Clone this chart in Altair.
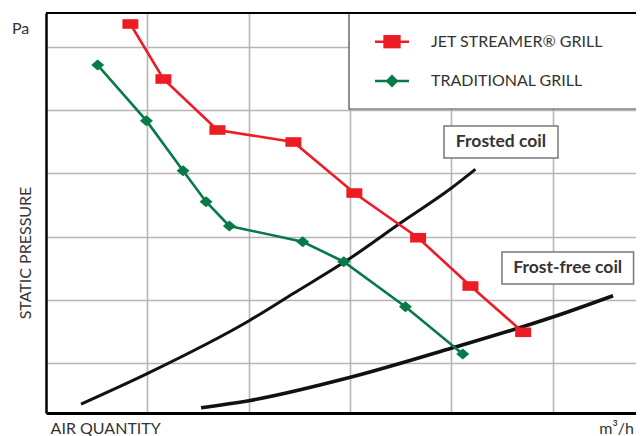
import altair as alt
import pandas as pd

# ---- data (grid units) ----
series_names = ["JET STREAMER® GRILL", "TRADITIONAL GRILL"]
series_colors = ["#ED1C24", "#067A48"]

jet_x = [0.833, 1.159, 1.692, 2.442, 3.044, 3.673, 4.190, 4.710]
jet_y = [6.360, 5.491, 4.686, 4.496, 3.690, 2.984, 2.221, 1.490]

trad_x = [0.510, 0.991, 1.353, 1.580, 1.810, 2.534, 2.939, 3.548, 4.114]
trad_y = [5.712, 4.833, 4.043, 3.553, 3.169, 2.921, 2.605, 1.894, 1.147]

frosted_x = [0.346, 1.004, 2.005, 2.445, 3.002, 3.499, 3.999, 4.239]
frosted_y = [0.357, 0.842, 1.673, 2.106, 2.659, 3.216, 3.765, 4.065]

frostfree_x = [1.531, 2.001, 3.005, 3.999, 4.996, 5.598]
frostfree_y = [0.299, 0.409, 0.779, 1.237, 1.727, 2.068]

coil_labels = ["Frosted coil", "Frost-free coil"]
coil_box_x = [3.929, 4.501]
coil_box_x2 = [5.054, 5.800]
coil_box_y = [4.749, 2.758]
coil_box_y2 = [4.243, 2.253]

grid_x = [1, 2, 3, 4, 5]
grid_y = [1, 2, 3, 4, 5, 6]
x_domain = [0, 5.824]
y_domain = [0.215, 6.534]

y_title = "STATIC PRESSURE"
y_unit = "Pa"
x_title = "AIR QUANTITY"
x_unit = "m³/h"

FONT = "Lato"
TXT = "#333333"
W, H = 590, 400

xs = alt.Scale(domain=x_domain, nice=False, zero=False)
ys = alt.Scale(domain=y_domain, nice=False, zero=False)
AXX = alt.Axis(values=grid_x, labels=False, ticks=False, title=None,
               grid=True, gridColor="#b5b5b5", gridWidth=1.6,
               domainColor="#000000", domainWidth=3)
AXY = alt.Axis(values=grid_y, labels=False, ticks=False, title=None,
               grid=True, gridColor="#b5b5b5", gridWidth=1.6,
               domainColor="#000000", domainWidth=2.5)


def X(f):
    return alt.X(f, scale=xs, axis=AXX, title=None)


def Y(f):
    return alt.Y(f, scale=ys, axis=AXY, title=None)


# ---- frames ----
def frame(xv, yv):
    return pd.DataFrame({"x": xv, "y": yv, "i": range(len(xv))})


jet_df = frame(jet_x, jet_y)
trad_df = frame(trad_x, trad_y)
frosted_df = frame(frosted_x, frosted_y)
frostfree_df = frame(frostfree_x, frostfree_y)
coil_df = pd.DataFrame({
    "label": coil_labels,
    "x": coil_box_x, "x2": coil_box_x2,
    "y": coil_box_y, "y2": coil_box_y2,
})
coil_df["xc"] = (coil_df["x"] + coil_df["x2"]) / 2
coil_df["yc"] = (coil_df["y"] + coil_df["y2"]) / 2

one = pd.DataFrame({"a": [0]})

# legend box (white, covers grid)
leg_box = alt.Chart(one).mark_rect(fill="white", stroke="#444444", strokeWidth=1.2).encode(
    x=alt.value(303), x2=alt.value(W + 20), y=alt.value(0), y2=alt.value(96)
)
top_line = alt.Chart(one).mark_rule(color="black", strokeWidth=2).encode(
    x=alt.value(0), x2=alt.value(W + 20), y=alt.value(0)
)

frosted_line = alt.Chart(frosted_df).mark_line(color="#111111", strokeWidth=3, interpolate="monotone").encode(
    x=X("x:Q"), y=Y("y:Q"), order="i:Q")
frostfree_line = alt.Chart(frostfree_df).mark_line(color="#111111", strokeWidth=3.6, interpolate="monotone").encode(
    x=X("x:Q"), y=Y("y:Q"), order="i:Q")

jet_line = alt.Chart(jet_df).mark_line(color=series_colors[0], strokeWidth=2.6).encode(
    x=X("x:Q"), y=Y("y:Q"), order="i:Q")
trad_line = alt.Chart(trad_df).mark_line(color=series_colors[1], strokeWidth=2.6).encode(
    x=X("x:Q"), y=Y("y:Q"), order="i:Q")

RECT = "M-1,-0.6H1V0.6H-1Z"
DIAM = "M-1,0L0,-0.85L1,0L0,0.85Z"
jet_pts = alt.Chart(jet_df).mark_point(filled=True, opacity=1, shape=RECT, size=256,
                                       color=series_colors[0]).encode(x=X("x:Q"), y=Y("y:Q"))
trad_pts = alt.Chart(trad_df).mark_point(filled=True, opacity=1, shape=DIAM, size=169,
                                         color=series_colors[1]).encode(x=X("x:Q"), y=Y("y:Q"))

coil_boxes = alt.Chart(coil_df).mark_rect(fill="white", stroke="#777777", strokeWidth=1.5).encode(
    x=X("x:Q"), x2="x2:Q", y=Y("y:Q"), y2="y2:Q",
)
coil_text = alt.Chart(coil_df).mark_text(font=FONT, fontSize=17.5, fontWeight="bold", color=TXT,
                                         align="center", baseline="middle").encode(
    x=X("xc:Q"), y=Y("yc:Q"), text="label:N"
)

# manual legend entries
leg_layers = []
leg_rows = [28.7, 68.0]
leg_shapes = ["M-1,-0.77H1V0.77H-1Z", "diamond"]
leg_sizes = [300, 165]
for name, col, yy, shp, sz in zip(series_names, series_colors, leg_rows, leg_shapes, leg_sizes):
    leg_layers.append(alt.Chart(one).mark_rule(color=col, strokeWidth=2.6).encode(
        x=alt.value(329), x2=alt.value(363), y=alt.value(yy)))
    leg_layers.append(alt.Chart(one).mark_point(filled=True, opacity=1, shape=shp, size=sz, color=col).encode(
        x=alt.value(346), y=alt.value(yy)))
    leg_layers.append(alt.Chart(one).mark_text(font=FONT, fontSize=16, color=TXT, align="left",
                                               baseline="middle", text=name).encode(
        x=alt.value(385), y=alt.value(yy)))

# axis texts
t_pa = alt.Chart(one).mark_text(font=FONT, fontSize=16, color=TXT, align="left", baseline="alphabetic",
                                text=y_unit).encode(x=alt.value(-34), y=alt.value(21))
t_sp = alt.Chart(one).mark_text(font=FONT, fontSize=16, color=TXT, align="center", baseline="middle",
                                angle=270, text=y_title).encode(x=alt.value(-20), y=alt.value(240))
t_aq = alt.Chart(one).mark_text(font=FONT, fontSize=16, color=TXT, align="left", baseline="alphabetic",
                                text=x_title).encode(x=alt.value(4.6), y=alt.value(421))
t_mh = alt.Chart(one).mark_text(font=FONT, fontSize=16, color=TXT, align="right", baseline="alphabetic",
                                text=x_unit).encode(x=alt.value(W - 2), y=alt.value(421))

chart = alt.layer(
    frosted_line, frostfree_line, jet_line, trad_line, jet_pts, trad_pts,
    coil_boxes, coil_text, leg_box, top_line, *leg_layers, t_pa, t_sp, t_aq, t_mh
).properties(
    width=W, height=H,
    padding={"left": 38, "top": 5, "right": 0, "bottom": 23},
    autosize=alt.AutoSizeParams(type="none"),
    background="white",
).configure_view(stroke=None)

chart.save("out.html", embed_options={"renderer": "svg", "actions": False})
